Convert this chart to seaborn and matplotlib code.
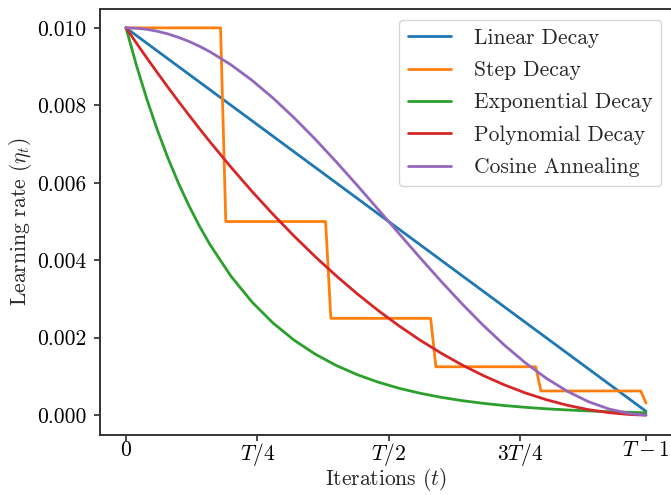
import numpy as np
import pandas as pd
import matplotlib
matplotlib.use("Agg")
import matplotlib.pyplot as plt
import seaborn as sns

# ---- data (T = 100 iterations, t = 0..99) ----
t_smooth = [0, 2, 4, 6, 8, 10, 12, 14, 16, 20, 24, 28, 32, 36, 40, 44, 48,
            52, 56, 60, 64, 68, 72, 76, 80, 84, 88, 92, 96, 99]

linear_lr = [0.01000, 0.00980, 0.00960, 0.00940, 0.00920, 0.00900, 0.00880,
             0.00860, 0.00840, 0.00800, 0.00760, 0.00720, 0.00680, 0.00640,
             0.00600, 0.00560, 0.00520, 0.00480, 0.00440, 0.00400, 0.00360,
             0.00320, 0.00280, 0.00240, 0.00200, 0.00160, 0.00120, 0.00080,
             0.00040, 0.00010]

exp_lr = [0.010000, 0.009025, 0.008145, 0.007351, 0.006634, 0.005987, 0.005404,
          0.004877, 0.004401, 0.003585, 0.002920, 0.002378, 0.001937, 0.001578,
          0.001285, 0.001047, 0.000853, 0.000694, 0.000566, 0.000461, 0.000375,
          0.000306, 0.000249, 0.000203, 0.000165, 0.000135, 0.000110, 0.000089,
          0.000073, 0.000062]

poly_lr = [0.010000, 0.009604, 0.009216, 0.008836, 0.008464, 0.008100, 0.007744,
           0.007396, 0.007056, 0.006400, 0.005776, 0.005184, 0.004624, 0.004096,
           0.003600, 0.003136, 0.002704, 0.002304, 0.001936, 0.001600, 0.001296,
           0.001024, 0.000784, 0.000576, 0.000400, 0.000256, 0.000144, 0.000064,
           0.000016, 0.000001]

cos_lr = [0.010000, 0.009990, 0.009961, 0.009911, 0.009843, 0.009755, 0.009649,
          0.009524, 0.009382, 0.009045, 0.008645, 0.008187, 0.007679, 0.007129,
          0.006545, 0.005937, 0.005314, 0.004686, 0.004063, 0.003455, 0.002871,
          0.002321, 0.001813, 0.001355, 0.000955, 0.000619, 0.000351, 0.000157,
          0.000039, 0.000002]

t_step = [0, 18, 19, 38, 39, 58, 59, 78, 79, 98, 99]
step_lr = [0.01, 0.01, 0.005, 0.005, 0.0025, 0.0025, 0.00125, 0.00125,
           0.000625, 0.000625, 0.0003125]

names = ["Linear Decay", "Step Decay", "Exponential Decay",
         "Polynomial Decay", "Cosine Annealing"]

x_ticks = [0, 25, 50, 75, 99]
x_ticklabels = [r"$0$", r"$T/4$", r"$T/2$", r"$3T/4$", r"$T-1$"]
y_ticks = [0.000, 0.002, 0.004, 0.006, 0.008, 0.010]

# ---- build long-form table ----
frames = [
    pd.DataFrame({"t": t_smooth, "lr": linear_lr, "schedule": names[0]}),
    pd.DataFrame({"t": t_step, "lr": step_lr, "schedule": names[1]}),
    pd.DataFrame({"t": t_smooth, "lr": exp_lr, "schedule": names[2]}),
    pd.DataFrame({"t": t_smooth, "lr": poly_lr, "schedule": names[3]}),
    pd.DataFrame({"t": t_smooth, "lr": cos_lr, "schedule": names[4]}),
]
df = pd.concat(frames, ignore_index=True)

sns.set_style("ticks")
plt.rcParams.update({
    "font.family": "serif",
    "font.serif": ["cmr10", "DejaVu Serif"],
    "mathtext.fontset": "cm",
    "axes.formatter.use_mathtext": True,
    "axes.unicode_minus": False,
    "font.size": 15.5,
    "axes.edgecolor": "0.2",
    "axes.linewidth": 1.4,
    "xtick.major.size": 4,
    "ytick.major.size": 4,
    "xtick.major.width": 1.25,
    "ytick.major.width": 1.25,
    "xtick.color": "0.2",
    "ytick.color": "0.2",
    "xtick.labelcolor": "black",
    "ytick.labelcolor": "black",
})

W, H = 671, 495
fig = plt.figure(figsize=(W / 100, H / 100), dpi=100)
ax = fig.add_axes([100 / W, (H - 434.5) / H, 572 / W, 426 / H])

palette = sns.color_palette("tab10", 5)
sns.lineplot(data=df, x="t", y="lr", hue="schedule", hue_order=names,
             palette=palette, estimator=None, sort=False, linewidth=2.0,
             ax=ax, legend=True)

ax.set_xticks(x_ticks)
ax.set_xticklabels(x_ticklabels)
ax.set_yticks(y_ticks)
ax.set_yticklabels([f"{v:.3f}" for v in y_ticks])
ax.tick_params(axis="y", labelsize=15.5, pad=6)
ax.tick_params(axis="x", labelsize=15.5, pad=0.5)
ax.set_xlabel(r"Iterations ($t$)", fontsize=15.5, labelpad=-1)
ax.set_ylabel(r"Learning rate ($\eta_t$)", fontsize=15.5, labelpad=2)
ax.margins(x=0.05, y=0.05)

handles, labels = ax.get_legend_handles_labels()
ax.legend(handles, labels, loc="upper right",
          bbox_to_anchor=(661 / W, 1 - 19.5 / H), bbox_transform=fig.transFigure,
          fontsize=15.5, frameon=True, fancybox=True, framealpha=0.8,
          edgecolor="0.8", borderaxespad=0, borderpad=0.4, labelspacing=0.6,
          handletextpad=1.05)

fig.savefig("out.png", dpi=100)
